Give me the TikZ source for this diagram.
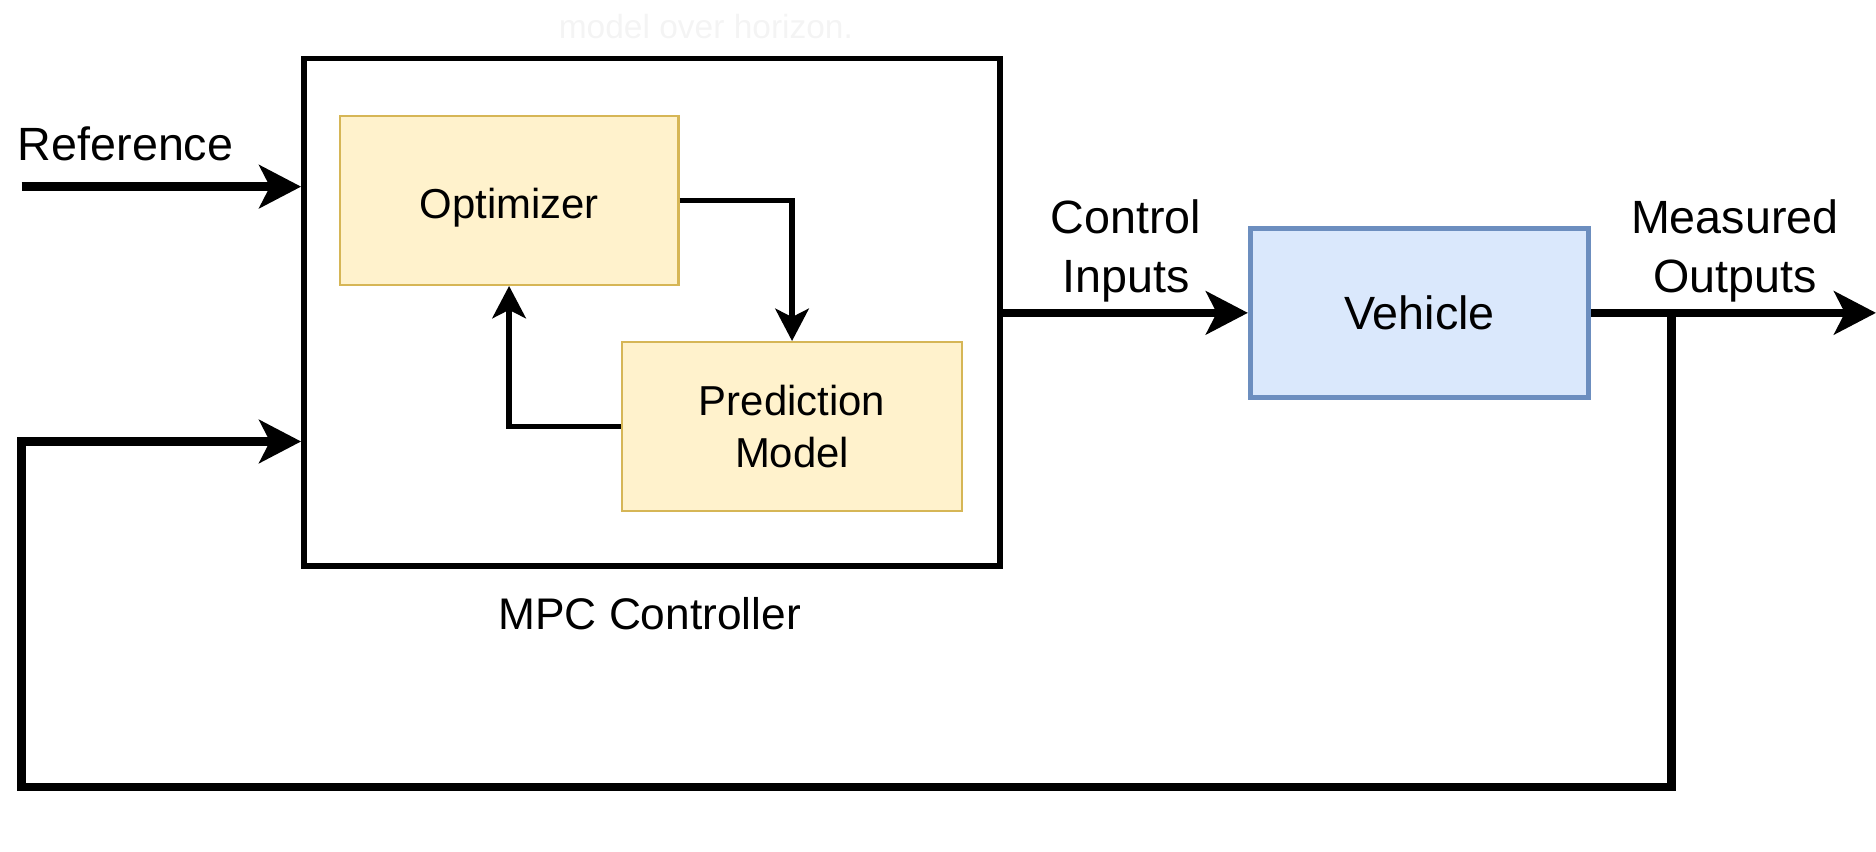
\documentclass[tikz,border=0pt]{standalone}
\usepackage{fontspec}
\setmainfont{Liberation Sans}
\usetikzlibrary{arrows.meta,calc}
\definecolor{yfill}{HTML}{FFF2CC}
\definecolor{ydraw}{HTML}{D6B656}
\definecolor{bfill}{HTML}{DAE8FC}
\definecolor{bdraw}{HTML}{6C8EBF}
\definecolor{faint}{HTML}{F4F4F4}
\tikzset{
  mpcbox/.style={draw=black, line width=4.7pt, minimum width=582pt, minimum height=424pt, inner sep=0pt},
  yelbox/.style={draw=ydraw, fill=yfill, line width=2pt, minimum width=283pt, minimum height=141pt, inner sep=0pt, align=center, font=\fontsize{35}{44}\selectfont},
  bluebox/.style={draw=bdraw, fill=bfill, line width=4pt, minimum width=283pt, minimum height=141pt, inner sep=0pt, align=center, font=\fontsize{39}{49}\selectfont},
  lbl/.style={align=center, inner sep=0pt, font=\fontsize{39}{49}\selectfont},
  mainline/.style={line width=7pt, line join=miter},
  mainarrow/.style={mainline, -{Stealth[length=35pt, width=36pt, inset=9pt]}},
  innerarrow/.style={line width=4.4pt, line join=miter, -{Stealth[length=27pt, width=28pt, inset=7pt]}},
}
\begin{document}
\begin{tikzpicture}[x=1pt, y=-1pt]
\useasboundingbox (0,0) rectangle (1568,712);

\node[text=faint, inner sep=0pt, font=\fontsize{28}{34}\selectfont] (faintnote) at (590,22) {model over horizon.};

\node[mpcbox] (mpc) at (545,261) {};
\node[yelbox, text height=37pt, text depth=7pt] (opt) at (425.5,167.5) {Optimizer};
\node[yelbox, minimum width=284pt] (pred) at (662,356.5) {Prediction\\Model};
\node[bluebox] (veh) at (1186.5,261.5) {Vehicle};

\node[lbl] (reflbl) at (105,120) {Reference};
\node[lbl] (ctrllbl) at (941,209.5) {Control\\Inputs};
\node[lbl] (measlbl) at (1450,209.5) {Measured\\Outputs};
\node[lbl, font=\fontsize{37}{46}\selectfont] (mpclbl) at (543,513) {MPC Controller};

\draw[innerarrow] (opt.east) -| (pred.north);
\draw[innerarrow] (pred.west) -| (opt.south);

\coordinate (refstart) at (18,156);
\draw[mainarrow] (refstart) -- (refstart -| mpc.west);

\draw[mainarrow] (mpc.east |- veh.west) -- (veh.west);

\coordinate (outend) at (1568,261.5);
\draw[mainarrow] (veh.east) -- (outend);

\coordinate (tap) at (1397,261.5);
\coordinate (fbcorner) at (18,658);
\coordinate (fbin) at (254,369);
\draw[mainarrow] (tap) |- (fbcorner) |- (mpc.west |- fbin);
\end{tikzpicture}
\end{document}
